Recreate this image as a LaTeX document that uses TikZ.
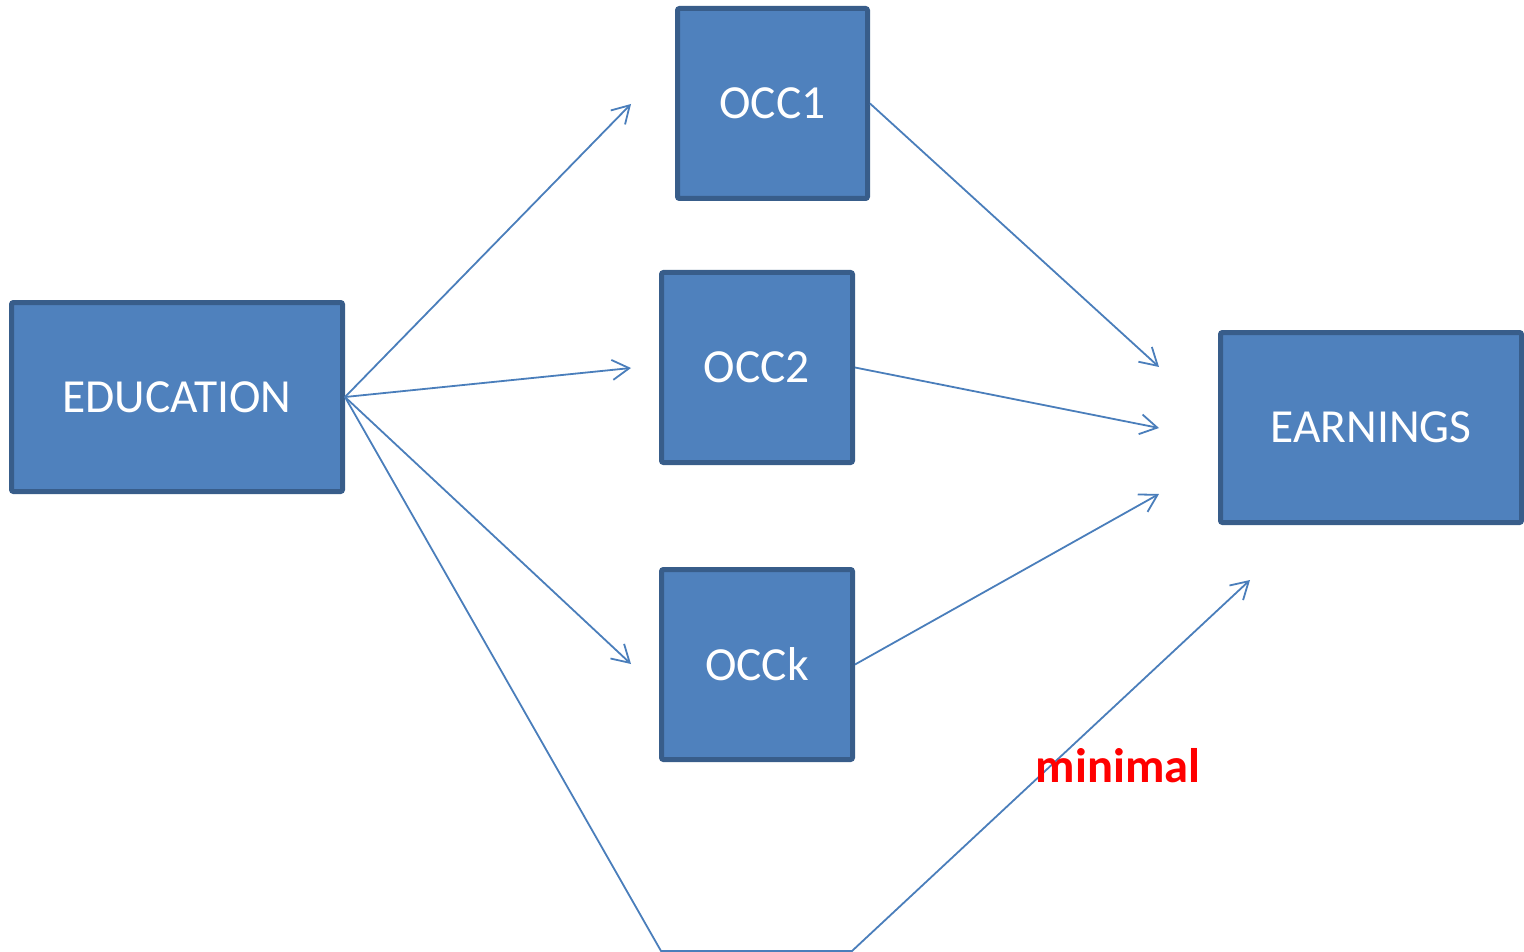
\documentclass[tikz,border=0pt]{standalone}
\usepackage{fontspec}
\setmainfont{Carlito}
\usetikzlibrary{arrows.meta}

\definecolor{boxfill}{HTML}{4F81BD}
\definecolor{boxline}{HTML}{385D8A}
\definecolor{linkline}{HTML}{4A7EBB}

\tikzset{
	box/.style={draw=boxline, fill=boxfill, line width=5pt, rounded corners=2pt, inner sep=0pt,
		text=white, font=\fontsize{47.5}{57}\selectfont},
	link/.style={draw=linkline, line width=1.8pt, -{Straight Barb[length=17pt,width=20pt,line width=1.8pt]}},
}

\begin{document}
\begin{tikzpicture}[x=1pt,y=-1pt]
		\useasboundingbox (0,0) rectangle (1524,952);

		\node (edu) [box, minimum width=331pt, minimum height=189pt] at (177,397) {EDUCATION};
		\node (occ1) [box, minimum width=190pt, minimum height=190pt] at (772.5,103.5) {OCC1};
		\node (occ2) [box, minimum width=191pt, minimum height=190pt] at (757,367.5) {OCC2};
		\node (occk) [box, minimum width=191pt, minimum height=190pt] at (757,664.5) {OCCk};
		\node (earn) [box, minimum width=301pt, minimum height=190pt] at (1371,427.5) {EARNINGS};

		% arrow ends in front of the boxes
		\coordinate (to1) at (631,104);
		\coordinate (to2) at (631,368);
		\coordinate (tok) at (631,664);
		\coordinate (in1) at (1159,367);
		\coordinate (in2) at (1159,428);
		\coordinate (ink) at (1159,494);
		\coordinate (indir) at (1250,580);
		\coordinate (low1) at (661,951);
		\coordinate (low2) at (852,951);

		\draw [link] (edu.east) -- (to1);
		\draw [link] (edu.east) -- (to2);
		\draw [link] (edu.east) -- (tok);
		\draw [link] (occ1.east) -- (in1);
		\draw [link] (occ2.east) -- (in2);
		\draw [link] (occk.east) -- (ink);
		% direct path underneath
		\draw [link] (edu.east) -- (low1) -- (low2) -- (indir);

		\node (minimal) [text=red, font=\fontsize{48.5}{58}\selectfont\bfseries] at (1118,766) {minimal};
	\end{tikzpicture}
\end{document}
